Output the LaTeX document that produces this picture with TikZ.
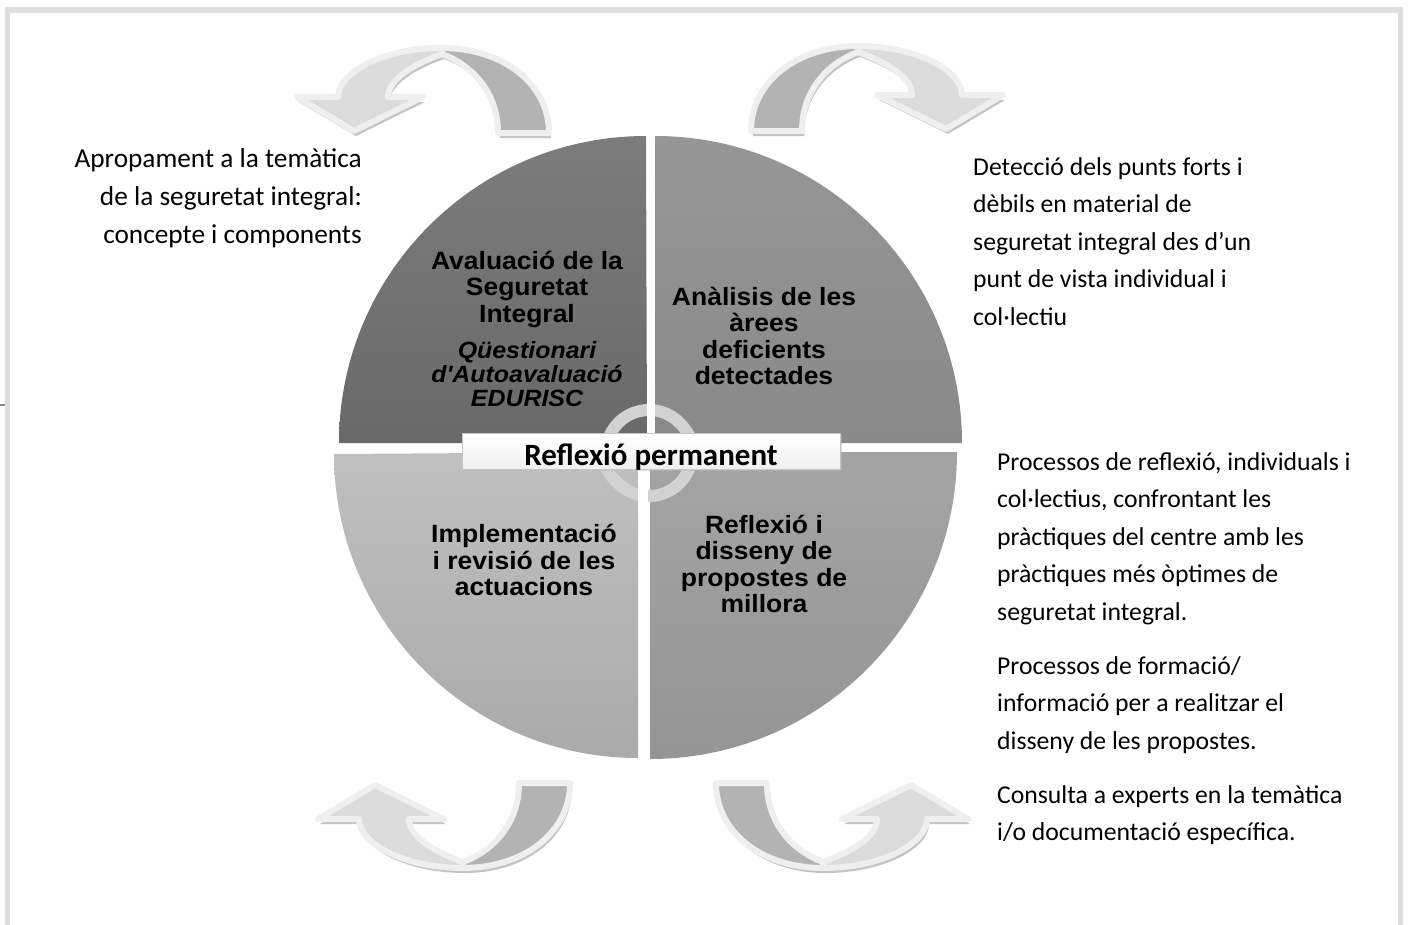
\documentclass[tikz,border=0pt]{standalone}
\usepackage{fontspec}
\setmainfont{Carlito}
\newfontfamily\arialfont{Liberation Sans}[FakeStretch=1.06]
\usetikzlibrary{positioning,arrows.meta,shadows}

\definecolor{framegray}{HTML}{DEDEDE}
\definecolor{arrowdark}{HTML}{B3B3B3}
\definecolor{arrowlight}{HTML}{DCDCDC}
\definecolor{arrowrim}{HTML}{EFEFEF}
\definecolor{arrowshade}{HTML}{C4C4C4}
\definecolor{ringgray}{HTML}{D2D2D2}
\definecolor{tltop}{HTML}{7C7C7C}\definecolor{tlbot}{HTML}{696969}
\definecolor{trtop}{HTML}{969696}\definecolor{trbot}{HTML}{898989}
\definecolor{bltop}{HTML}{C0C0C0}\definecolor{blbot}{HTML}{AAAAAA}
\definecolor{brtop}{HTML}{A4A4A4}\definecolor{brbot}{HTML}{959595}

\tikzset{
  sidetext/.style = {font=\fontsize{25.7}{37.5}\selectfont, inner sep=0pt},
  quadtext/.style = {font=\arialfont\bfseries\fontsize{25}{26.5}\selectfont, align=center, inner sep=0pt},
  quadsub/.style  = {font=\arialfont\bfseries\itshape\fontsize{23.5}{24}\selectfont, align=center, inner sep=0pt},
  permbox/.style  = {minimum width=378pt, minimum height=36pt, draw=gray!45, top color=white, bottom color=gray!12,
                     drop shadow={shadow xshift=2pt, shadow yshift=-2pt, fill=gray!55}},
  rim/.style      = {draw=arrowrim, line width=6pt, line join=round},
}

% local shape of a bent arrow: arch upwards, plain leg left, head right
\newcommand{\bentpath}{(-107,0) .. controls (-107,50) and (-60,85) .. (0,85)
  .. controls (60,85) and (104,60) .. (104,36) -- (145,36) -- (88,2) -- (19,36) -- (54,36)
  .. controls (54,55) and (25,70) .. (0,79) .. controls (-25,70) and (-56,45) .. (-56,0) -- cycle}
\newcommand{\bentarrow}[1]{%
  \begin{scope}[shift={(2,5)}]\begin{scope}[#1]\fill[arrowshade] \bentpath;\end{scope}\end{scope}
  \begin{scope}[#1]
    \fill[arrowlight] \bentpath;
    \begin{scope}\clip (-200,-60) rectangle (0,200); \fill[arrowdark] \bentpath;\end{scope}
    \draw[rim] \bentpath;
    \draw[rim] (0,79) -- (0,85);
  \end{scope}}

\begin{document}
\begin{tikzpicture}[x=1pt, y=-1pt]
  \useasboundingbox (0,0) rectangle (1408,924);
  \clip (0,0) rectangle (1408,924);
  % frame
  \draw[framegray, line width=5.5pt] (7.5,10) rectangle (1400.5,960);
  \draw[gray!90, line width=2.5pt] (0,405) -- (5,405);

  % circle in four pieces
  \shade[top color=tltop, bottom color=tlbot] (647,443) -- (339,443) arc[start angle=180, end angle=270, radius=307] -- cycle;
  \shade[top color=trtop, bottom color=trbot] (655,443) -- (655,136) arc[start angle=270, end angle=360, radius=307] -- cycle;
  \shade[top color=bltop, bottom color=blbot] (638,452) -- (638,758) arc[start angle=90, end angle=180, radius=304] -- cycle;
  \shade[top color=brtop, bottom color=brbot] (650,452) -- (957,452) arc[start angle=0, end angle=90, radius=307] -- cycle;

  % cycle arrows in the middle
  \draw[ringgray, line width=12pt, -{Triangle[width=26pt, length=14pt]}]
    ([shift={(160:43)}]649,453) arc[start angle=160, end angle=365, radius=43];
  \draw[ringgray, line width=12pt, -{Triangle[width=26pt, length=14pt]}]
    ([shift={(20:43)}]649,453) arc[start angle=20, end angle=185, radius=43];
  \fill[white] (647,395) rectangle (655,443);
  \fill[white] (638,452) rectangle (648,512);
  \fill[white] (590,443) rectangle (710,452);

  \node[permbox] (perm) at (651,451) {};
  \node[font=\bfseries\fontsize{31}{34}\selectfont, anchor=base, inner sep=0pt] (permlabel) at (651,465) {Reflexió permanent};

  % quadrant texts
  \node[quadtext] (evalua) at (527,289) {Avaluació de la\\Seguretat\\Integral};
  \node[quadsub] (questio) at (527,374) {Qüestionari\\d'Autoavaluació\\EDURISC};
  \node[quadtext] (analisi) at (764,336) {Anàlisis de les\\àrees\\deficients\\detectades};
  \node[quadtext] (implem) at (524,560) {Implementació\\i revisió de les\\actuacions};
  \node[quadtext] (disseny) at (764,564) {Reflexió i\\disseny de\\propostes de\\millora};

  % bent arrows
  \bentarrow{shift={(442,133)}, xscale=-1, yscale=-1}
  \bentarrow{shift={(858,131)}, yscale=-1}
  \bentarrow{shift={(463,783)}, xscale=-1}
  \bentarrow{shift={(823,783)}}

  % side texts
  \node[sidetext, font=\fontsize{27.3}{38}\selectfont, align=right, anchor=north east] (intro) at (362,148)
    {Apropament a la temàtica\\de la seguretat integral:\\concepte i components};
  \node[sidetext, align=left, anchor=north west] (detect) at (973,157)
    {Detecció dels punts forts i\\dèbils en material de\\seguretat integral des d’un\\punt de vista individual i\\col·lectiu};
  \node[sidetext, align=left, anchor=north west] (procs) at (997,452)
    {Processos de reflexió, individuals i\\col·lectius, confrontant les\\pràctiques del centre amb les\\pràctiques més òptimes de\\seguretat integral.};
  \node[sidetext, align=left, anchor=north west] (forma) at (997,656)
    {Processos de formació/\\informació per a realitzar el\\disseny de les propostes.};
  \node[sidetext, align=left, anchor=north west] (consult) at (997,785)
    {Consulta a experts en la temàtica\\i/o documentació específica.};
\end{tikzpicture}
\end{document}
